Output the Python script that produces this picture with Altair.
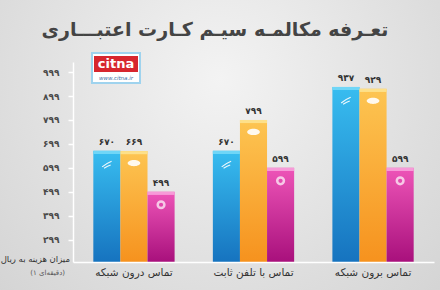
import altair as alt
import pandas as pd

# ---------------- data ----------------
categories = ["تماس درون شبکه", "تماس با تلفن ثابت", "تماس برون شبکه"]
series = ["همراه اول", "ایرانسل", "رایتل"]
blue_values = [670, 670, 937]
orange_values = [669, 799, 929]
magenta_values = [499, 599, 599]
y_ticks = [299, 399, 499, 599, 699, 799, 899, 999]

title_text = "تعـرفه مکالمـه سیـم کـارت اعتبـــاری"
y_title = "میزان هزینه به ریال"
y_subtitle = "(۱ دقیقه‌ای)"
logo_text = "citna"
logo_url = "www.citna.ir"

FA = str.maketrans("0123456789", "۰۱۲۳۴۵۶۷۸۹")

rows = []
for s, vals in zip(series, [blue_values, orange_values, magenta_values]):
    for c, v in zip(categories, vals):
        rows.append({"category": c, "series": s, "value": v, "label": str(v).translate(FA)})
df = pd.DataFrame(rows)

FONT = "DejaVu Sans"
W, H = 361, 200
PAD_L, PAD_T = 73, 62
Y_DOMAIN = [206, 1041]

label_expr = "datum.label"
for d in "0123456789":
    label_expr = f"replace({label_expr}, regexp('{d}', 'g'), '{d.translate(FA)}')"

x_enc = alt.X(
    "category:N",
    sort=categories,
    scale=alt.Scale(paddingInner=0.32, paddingOuter=0.17),
    axis=alt.Axis(
        title=None, labelAngle=0, ticks=False, domainColor="white", domainWidth=1.5,
        labelFont=FONT, labelFontSize=10.5, labelColor="#333333", labelPadding=5,
        zindex=1,
    ),
)

def y_enc(field):
    return alt.Y(
        field,
        scale=alt.Scale(domain=Y_DOMAIN, nice=False, zero=False),
        axis=alt.Axis(
            title=None, values=y_ticks, grid=False, domainColor="white", domainWidth=1.5,
            tickColor="white", tickSize=5, tickWidth=1.5, labelPadding=9,
            labelFont=FONT, labelFontSize=9, labelFontWeight="bold", labelColor="#4a4a4a",
            labelExpr=label_expr, labelOverlap=False, zindex=1,
        ),
    )

xoff = alt.XOffset("series:N", sort=series, scale=alt.Scale(domain=series, paddingInner=0, paddingOuter=0))

one = pd.DataFrame({"k": [0]})

bg = alt.Chart(one).mark_rect(
    color=alt.RadialGradient(
        gradient="radial",
        stops=[alt.GradientStop(offset=0, color="#f3f3f3"), alt.GradientStop(offset=1, color="#d2d2d2")],
        x1=0.5, y1=0.35, r1=0.0, x2=0.5, y2=0.35, r2=0.75,
    )
).encode(
    x=alt.value(-PAD_L), x2=alt.value(440 - PAD_L), y=alt.value(-PAD_T), y2=alt.value(290 - PAD_T)
)

grads = {
    series[0]: ("#38bdf0", "#1673bf"),
    series[1]: ("#fdc552", "#f6921e"),
    series[2]: ("#ee55b8", "#a8107c"),
}
bar_layers = []
for s in series:
    top, bot = grads[s]
    bar_layers.append(
        alt.Chart(df).transform_filter(alt.datum.series == s).mark_bar(
            color=alt.LinearGradient(
                gradient="linear",
                stops=[alt.GradientStop(offset=0, color=top), alt.GradientStop(offset=1, color=bot)],
                x1=0, y1=0, x2=0, y2=1,
            )
        ).encode(x=x_enc, xOffset=xoff, y=y_enc("value:Q"), y2=alt.datum(Y_DOMAIN[0]))
    )

caps = alt.Chart(df).transform_calculate(top2="datum.value - 13").mark_bar().encode(
    x=x_enc, xOffset=xoff, y=y_enc("value:Q"), y2="top2:Q",
    color=alt.Color("series:N", sort=series,
                    scale=alt.Scale(domain=series, range=["#6fd6f7", "#fde08a", "#f79ad8"]),
                    legend=None),
)

rings = alt.Chart(df).transform_filter(alt.datum.series == series[2]).transform_calculate(
    yy="datum.value - 54").mark_point(
    shape="circle", filled=False, stroke="white", strokeWidth=2.5, size=45, xOffset=5
).encode(x=x_enc, xOffset=xoff, y=y_enc("yy:Q"))

ovals = alt.Chart(df).transform_filter(alt.datum.series == series[1]).transform_calculate(
    yy="datum.value - 50").mark_point(
    shape="M -1 0 A 1 0.5 0 1 0 1 0 A 1 0.5 0 1 0 -1 0 Z", filled=True, color="white",
    opacity=0.9, size=160
).encode(x=x_enc, xOffset=xoff, y=y_enc("yy:Q"))

swoosh = alt.Chart(df).transform_filter(alt.datum.series == series[0]).transform_calculate(
    yy="datum.value - 55").mark_point(
    shape="M -1 0.6 Q 0 -0.2 1 -0.6 M -0.6 0.9 Q 0.2 0.4 0.8 0.2", filled=False, stroke="white",
    strokeWidth=1.2, opacity=0.9, size=90
).encode(x=x_enc, xOffset=xoff, y=y_enc("yy:Q"))

labels = alt.Chart(df).mark_text(
    font=FONT, fontSize=9, fontWeight="bold", color="#333333", dy=-9
).encode(x=x_enc, xOffset=xoff, y=y_enc("value:Q"), text="label:N")

title = alt.Chart(one).mark_text(
    text=title_text, font=FONT, fontSize=19, fontWeight="bold", color="#444444", align="center", baseline="middle"
).encode(x=alt.value(142), y=alt.value(-32))

ytitle = alt.Chart(one).mark_text(
    text=y_title, font=FONT, fontSize=8.5, color="#333333", align="right", baseline="middle"
).encode(x=alt.value(-3), y=alt.value(197))

ysub = alt.Chart(one).mark_text(
    text=y_subtitle, font=FONT, fontSize=7, color="#555555", align="right", baseline="middle"
).encode(x=alt.value(-8), y=alt.value(211))

logo_box = alt.Chart(one).mark_rect(color="#ffffff", stroke="#9fd3ee", strokeWidth=2).encode(
    x=alt.value(19), x2=alt.value(67), y=alt.value(-9), y2=alt.value(21))
logo_red = alt.Chart(one).mark_rect(color="#d7262e").encode(
    x=alt.value(21), x2=alt.value(65), y=alt.value(-6), y2=alt.value(10))
logo_t = alt.Chart(one).mark_text(
    text=logo_text, font=FONT, fontSize=13, fontWeight="bold", color="white", align="center", baseline="middle"
).encode(x=alt.value(43), y=alt.value(2))
logo_u = alt.Chart(one).mark_text(
    text=logo_url, font=FONT, fontSize=5.5, fontStyle="italic", color="#3a6ea5", align="center", baseline="middle"
).encode(x=alt.value(43), y=alt.value(16))

chart = alt.layer(
    bg, *bar_layers, caps, rings, ovals, swoosh, labels, title, ytitle, ysub,
    logo_box, logo_red, logo_t, logo_u
).properties(
    width=W, height=H,
    autosize=alt.AutoSizeParams(type="none"),
    padding={"left": PAD_L, "top": PAD_T, "right": 440 - PAD_L - W, "bottom": 290 - PAD_T - H},
).configure(background="#d8d8d8").configure_view(stroke=None)

chart.save("out.html", embed_options={"renderer": "svg", "actions": False})
